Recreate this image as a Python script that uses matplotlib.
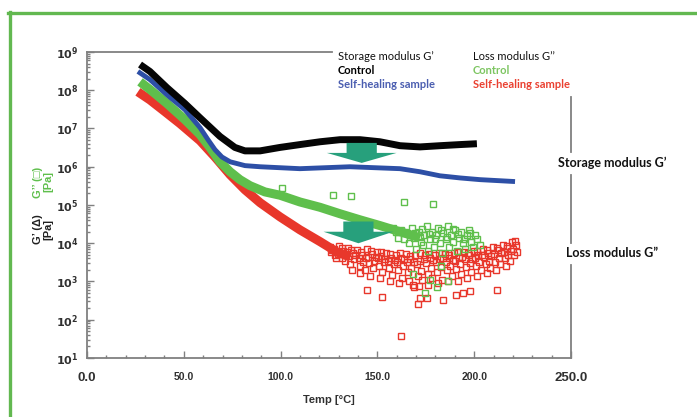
# storage / loss modulus vs temperature, control vs self-healing sample
import numpy as np
import matplotlib
matplotlib.use("Agg")
import matplotlib.pyplot as plt
from matplotlib.patches import Polygon
from matplotlib.lines import Line2D

# ---- data (temp in degC, modulus in Pa) ----
# storage modulus G' - control (black)
ctrl_gp_temp = [27.4, 32.5, 41.3, 50.6, 58.4, 68.7, 76.4, 81.6, 89.4, 99.7, 110.0, 120.4, 130.7,
                141.0, 151.3, 161.7, 172.0, 182.3, 192.7, 201.4]
ctrl_gp = [4.7e8, 3.1e8, 1.17e8, 4.5e7, 1.9e7, 6.2e6, 3.2e6, 2.6e6, 2.6e6, 3.2e6, 3.8e6, 4.5e6, 5.1e6,
           5.1e6, 4.5e6, 3.55e6, 3.3e6, 3.55e6, 3.8e6, 4.0e6]

# storage modulus G' - self-healing (blue)
heal_gp_temp = [26.3, 32.5, 41.3, 50.6, 58.4, 62.5, 66.1, 69.7, 73.9, 81.6, 89.4, 110.0, 135.8,
                161.7, 172.0, 182.3, 192.7, 203.0, 221.1]
heal_gp = [3.1e8, 1.9e8, 7.6e7, 3.1e7, 1.05e7, 5.1e6, 2.8e6, 1.8e6, 1.35e6, 1.07e6, 1.0e6, 8.9e5, 1.0e6,
           8.9e5, 7.4e5, 5.8e5, 5.1e5, 4.6e5, 4.1e5]

# loss modulus G'' - control (green), dense part of the curve
ctrl_gpp_temp = [27.4, 32.5, 41.3, 50.6, 58.4, 63.5, 68.7, 73.9, 79.0, 84.2, 91.9, 99.7, 110.0,
                 120.4, 130.7, 141.0, 151.3, 161.7, 172.0]
ctrl_gpp = [1.66e8, 1.05e8, 4.5e7, 1.7e7, 6.9e6, 3.2e6, 1.35e6, 7.4e5, 4.6e5, 3.2e5, 2.2e5, 1.8e5, 1.2e5,
            8.7e4, 5.9e4, 4.1e4, 2.9e4, 2.0e4, 1.38e4]

# loss modulus G'' - self-healing (red), dense part of the curve
heal_gpp_temp = [26.3, 32.5, 40.3, 48.0, 58.4, 66.1, 73.9, 81.6, 89.4, 99.7, 110.0, 120.4, 129.1, 135.8]
heal_gpp = [9.1e7, 5.6e7, 2.75e7, 1.35e7, 4.8e6, 1.8e6, 6.2e5, 2.5e5, 1.15e5, 4.9e4, 2.24e4, 1.1e4,
            5.9e3, 4.4e3]

# scattered points of G'' at high temperature (green)
ctrl_sc_temp = [158.2, 159.5, 160.8, 162.3, 163.6, 165.1, 166.4, 167.7, 168.9, 170.2, 171.3, 172.4,
                173.5, 174.3, 175.4, 176.2, 177.3, 178.1, 179.2, 180.4, 181.3, 182.2, 183.4, 184.1,
                185.2, 186.3, 187.1, 188.2, 189.3, 190.1, 191.3, 192.2, 193.4, 194.1, 195.3, 196.2,
                197.4, 198.1, 199.2, 200.3, 201.2, 203.0,
                164.5, 166.9, 169.4, 171.9, 173.0, 176.7, 179.7, 182.8, 185.8, 188.9, 191.8, 194.8, 197.9,
                168.5, 174.6, 177.0, 180.6, 186.6, 183.0,
                100.9, 126.9, 136.2, 163.7, 178.9]
ctrl_sc = [2.5e4, 2.0e4, 1.4e4, 2.2e4, 1.26e4, 1.8e4, 1.0e4, 2.5e4, 1.4e4, 7.1e3, 2.0e4, 1.1e4,
           8.9e3, 1.6e4, 2.8e4, 6.3e3, 1.26e4, 2.0e4, 7.9e3, 1.6e4, 2.5e4, 1.0e4, 5.6e3, 1.8e4,
           1.26e4, 2.8e4, 7.9e3, 1.6e4, 1.1e4, 2.2e4, 6.3e3, 1.4e4, 2.0e4, 1.0e4, 7.1e3, 1.6e4,
           2.2e4, 1.1e4, 7.9e3, 1.6e4, 1.26e4, 8.9e3,
           2.0e4, 1.6e4, 1.8e4, 1.5e4, 2.4e4, 1.7e4, 1.3e4, 2.2e4, 1.5e4, 2.4e4, 1.7e4, 1.3e4, 1.8e4,
           1.6e3, 4.9e2, 1.12e3, 7.1e2, 1.0e3, 2.5e3,
           2.75e5, 1.86e5, 1.74e5, 1.17e5, 1.07e5]

# scattered points of G'' at high temperature (red)
heal_sc_temp = [125.3, 126.1, 127.4, 127.9, 128.6, 130.2, 130.8, 131.5, 132.3, 133.1, 133.6, 135.0,
                135.4, 135.9, 136.7, 137.2, 137.8, 139.6, 140.3, 140.9, 141.2, 142.1, 142.7, 143.4,
                144.8, 145.3, 145.9, 146.4, 147.2, 147.7, 148.3, 149.8, 150.4, 150.9, 151.3, 152.1,
                152.6, 153.2, 154.7, 155.3, 155.8, 156.3, 157.1, 157.6, 158.4, 159.7, 160.2, 160.8,
                161.3, 162.0, 162.6, 163.3, 164.8, 165.2, 165.9, 166.4, 167.1, 167.6, 168.2, 169.6,
                170.3, 170.9, 171.4, 172.1, 172.7, 173.3, 174.8, 175.2, 175.9, 176.4, 177.1, 177.6,
                178.3, 179.7, 180.2, 180.8, 181.4, 182.1, 182.7, 183.3, 184.8, 185.3, 185.9, 186.4,
                187.1, 187.6, 188.3, 189.7, 190.2, 190.8, 191.4, 192.1, 192.7, 193.3, 194.8, 195.2,
                195.9, 196.4, 197.1, 197.6, 198.3, 199.7, 200.2, 200.8, 201.4, 202.1, 202.7, 203.3,
                204.8, 205.2, 205.9, 206.4, 207.1, 207.6, 208.3, 209.7, 210.2, 210.8, 211.4, 212.1,
                212.7, 213.3, 214.8, 215.2, 215.9, 216.4, 217.1, 217.6, 218.3, 219.6, 220.2, 220.8,
                221.6, 222.0,
                126.8, 129.4, 131.9, 134.2, 136.3, 138.5, 141.7, 143.9, 146.8, 149.1, 151.8, 153.9,
                156.7, 158.9, 161.6, 163.9, 166.8, 168.8, 171.8, 173.9, 176.8, 178.9, 181.7, 183.9,
                186.8, 188.9, 191.7, 193.9, 196.8, 198.9, 201.7, 203.9, 206.8, 208.9, 211.7, 213.9,
                216.8, 218.9, 221.2,
                144.5, 152.5, 162.3, 171.0, 175.5, 184.0, 190.6, 194.4, 198.0, 212.0, 169.0, 172.0]
heal_sc = [7.9e3, 6.0e3, 7.1e3, 5.0e3, 4.0e3, 8.3e3, 5.6e3, 4.2e3, 6.3e3, 3.5e3, 4.8e3, 7.6e3,
           4.6e3, 2.8e3, 2.0e3, 5.6e3, 3.8e3, 6.6e3, 4.2e3, 2.5e3, 1.66e3, 5.0e3, 3.2e3, 2.0e3,
           7.1e3, 4.5e3, 3.0e3, 1.4e3, 5.2e3, 2.2e3, 3.5e3, 6.0e3, 4.0e3, 2.6e3, 1.2e3, 4.6e3,
           1.8e3, 3.2e3, 5.5e3, 3.5e3, 2.2e3, 1.0e3, 4.2e3, 1.5e3, 2.8e3, 5.0e3, 3.3e3, 2.0e3,
           9.0e2, 4.0e3, 1.26e3, 2.5e3, 5.2e3, 3.2e3, 1.8e3, 1.0e3, 3.8e3, 2.2e3, 8.0e2, 4.8e3,
           2.8e3, 1.4e3, 7.6e2, 3.5e3, 1.9e3, 1.1e3, 5.0e3, 3.0e3, 1.6e3, 8.3e2, 4.0e3, 2.2e3,
           1.26e3, 4.8e3, 3.2e3, 1.8e3, 9.0e2, 3.8e3, 2.4e3, 1.1e3, 5.2e3, 3.3e3, 2.0e3, 1.0e3,
           4.0e3, 2.6e3, 1.4e3, 5.6e3, 3.5e3, 2.1e3, 1.05e3, 4.5e3, 2.8e3, 1.6e3, 6.0e3, 3.8e3,
           2.4e3, 1.26e3, 4.8e3, 3.0e3, 1.8e3, 6.3e3, 4.2e3, 2.6e3, 1.4e3, 5.0e3, 3.2e3, 2.0e3,
           7.1e3, 4.5e3, 2.8e3, 1.66e3, 5.6e3, 3.5e3, 2.2e3, 7.9e3, 5.2e3, 3.3e3, 2.0e3, 6.6e3,
           4.2e3, 2.8e3, 8.9e3, 6.0e3, 4.0e3, 2.6e3, 7.6e3, 5.0e3, 3.5e3, 1.05e4, 7.1e3, 4.8e3,
           9.0e3, 6.0e3,
           6.6e3, 5.2e3, 7.4e3, 5.8e3, 6.8e3, 4.8e3, 6.0e3, 4.0e3, 6.2e3, 4.4e3, 5.8e3, 3.9e3,
           5.2e3, 3.6e3, 5.6e3, 3.8e3, 4.6e3, 3.2e3, 5.4e3, 3.9e3, 5.2e3, 3.6e3, 5.6e3, 4.2e3,
           5.0e3, 3.6e3, 6.0e3, 4.4e3, 5.4e3, 3.9e3, 6.3e3, 4.8e3, 6.6e3, 4.6e3, 7.6e3, 5.6e3,
           8.5e3, 6.3e3, 1.15e4,
           6.0e2, 3.9e2, 38, 2.6e2, 3.6e2, 3.3e2, 4.5e2, 4.9e2, 5.5e2, 6.0e2, 7.1e2, 3.6e2]

x_ticks = [0, 50, 100, 150, 200, 250]
x_tick_labels = ["0.0", "50.0", "100.0", "150.0", "200.0", "250.0"]
y_exponents = [1, 2, 3, 4, 5, 6, 7, 8, 9]

# colours
BLACK = "#050505"
BLUE = "#2d4fa6"
GREEN = "#5fbf4c"
RED = "#e8372b"
TEAL = "#27a07c"
AXIS_GRAY = "#808080"
FRAME_GREEN = "#62b850"

TXT_FONT = ["Lato", "DejaVu Sans"]
TICK_FONT = ["Liberation Sans", "DejaVu Sans"]

fig = plt.figure(figsize=(6.97, 4.17), dpi=100)
fig.patch.set_facecolor("white")
ax = fig.add_axes([0.1248, 0.1415, 0.6944, 0.7338])

# scatter first, then the thick curves
sq = dict(marker="s", linestyle="none", markersize=4, markerfacecolor="none", markeredgewidth=1.0)
ax.plot(heal_sc_temp, heal_sc, color=RED, markeredgecolor=RED, zorder=2, **sq)
ax.plot(ctrl_sc_temp, ctrl_sc, color=GREEN, markeredgecolor=GREEN, zorder=2, **sq)
ax.plot(heal_gpp_temp, heal_gpp, color=RED, lw=6.5, solid_capstyle="butt", solid_joinstyle="round", zorder=3)
ax.plot(ctrl_gpp_temp, ctrl_gpp, color=GREEN, lw=6.5, solid_capstyle="butt", solid_joinstyle="round", zorder=3)
ax.plot(heal_gp_temp, heal_gp, color=BLUE, lw=3.5, solid_capstyle="butt", solid_joinstyle="round", zorder=4)
ax.plot(ctrl_gp_temp, ctrl_gp, color=BLACK, lw=5, solid_capstyle="butt", solid_joinstyle="round", zorder=5)


def down_arrow(xc, y_top, y_neck, y_tip, shaft_hw, head_hw):
    verts = [(xc - shaft_hw, y_top), (xc + shaft_hw, y_top), (xc + shaft_hw, y_neck),
             (xc + head_hw, y_neck), (xc, y_tip), (xc - head_hw, y_neck), (xc - shaft_hw, y_neck)]
    ax.add_patch(Polygon(verts, closed=True, facecolor=TEAL, edgecolor="none", zorder=6))


down_arrow(141.9, 4.2e6, 2.3e6, 1.26e6, 7.8, 18.0)
down_arrow(140.2, 3.7e4, 2.0e4, 1.0e4, 7.8, 18.0)

ax.set_yscale("log")
ax.set_xlim(0, 250)
ax.set_ylim(1e1, 1e9)

ax.set_xticks(x_ticks)
ax.set_xticks(np.arange(0, 251, 10), minor=True)
ax.set_xticklabels(x_tick_labels)
ax.set_yticks([10.0 ** e for e in y_exponents])
ax.set_yticklabels([r"$\mathbf{10^{%d}}$" % e for e in y_exponents])

ax.tick_params(which="both", direction="in", color=AXIS_GRAY, width=1.0)
ax.tick_params(which="major", length=5)
ax.tick_params(which="minor", length=2.5)
ax.tick_params(axis="x", pad=10, labelcolor="#303030")
ax.tick_params(axis="y", pad=6, labelcolor="#303030", labelsize=8)
for lab in ax.get_xticklabels():
    lab.set_family(TICK_FONT)
    lab.set_weight("bold")
    lab.set_fontsize(7.5)
ax.get_xticklabels()[0].set_fontsize(9.5)
ax.get_xticklabels()[-1].set_fontsize(9.5)

# spines: left and bottom full, top and right only in pieces
for s in ["left", "bottom"]:
    ax.spines[s].set_color(AXIS_GRAY)
    ax.spines[s].set_linewidth(1.3)
ax.spines["top"].set_visible(False)
ax.spines["right"].set_visible(False)
ax.add_line(Line2D([0, 0.506], [1, 1], transform=ax.transAxes, color=AXIS_GRAY, lw=1.3, clip_on=False))
for y0, y1 in [(0.673, 0.853), (0.376, 0.598), (0.0, 0.304)]:
    ax.add_line(Line2D([1, 1], [y0, y1], transform=ax.transAxes, color=AXIS_GRAY, lw=1.3, clip_on=False))

ax.set_xlabel("Temp [°C]", family=TICK_FONT, fontweight="bold", fontsize=8, color="#303030", labelpad=8)

# y axis labels (two colours)
fig.text(43 / 697, 1 - 182 / 417, "G’’ (□)\n[Pa]", rotation=90, ha="center", va="center",
         multialignment="center", color=GREEN, fontsize=8, fontweight="bold", family=TICK_FONT, linespacing=1.1)
fig.text(43 / 697, 1 - 229 / 417, "G’ (Δ)\n[Pa]", rotation=90, ha="center", va="center",
         multialignment="center", color="#202020", fontsize=8, fontweight="bold", family=TICK_FONT, linespacing=1.1)

# legend block at the top
fig.text(338 / 697, 1 - 57 / 417, "Storage modulus G’", fontsize=8, family=TXT_FONT, color="#111111", va="center")
fig.text(338 / 697, 1 - 71 / 417, "Control", fontsize=8, family=TXT_FONT, fontweight="bold", color="#000000", va="center")
fig.text(338 / 697, 1 - 85 / 417, "Self-healing sample", fontsize=8, family=TXT_FONT, fontweight="bold", color="#4a5db0", va="center")
fig.text(473 / 697, 1 - 57 / 417, "Loss modulus G’’", fontsize=8, family=TXT_FONT, color="#111111", va="center")
fig.text(473 / 697, 1 - 71 / 417, "Control", fontsize=8, family=TXT_FONT, fontweight="bold", color="#7cc560", va="center")
fig.text(473 / 697, 1 - 85 / 417, "Self-healing sample", fontsize=8, family=TXT_FONT, fontweight="bold", color="#ea4030", va="center")

# labels on the right
fig.text(612 / 697, 1 - 163 / 417, "Storage modulus G’", fontsize=9, family=TXT_FONT, fontweight="bold",
         color="#111111", ha="center", va="center")
fig.text(612 / 697, 1 - 253 / 417, "Loss modulus G”", fontsize=9, family=TXT_FONT, fontweight="bold",
         color="#111111", ha="center", va="center")

# green frame (open to the right and bottom)
fig.add_artist(Line2D([9.5 / 697, 9.5 / 697], [0, 1 - 12 / 417], transform=fig.transFigure, color=FRAME_GREEN, lw=2.4))
fig.add_artist(Line2D([8.3 / 697, 1], [1 - 12.5 / 417, 1 - 12.5 / 417], transform=fig.transFigure, color=FRAME_GREEN, lw=2.4))

fig.savefig("out.png", dpi=100, facecolor="white")
